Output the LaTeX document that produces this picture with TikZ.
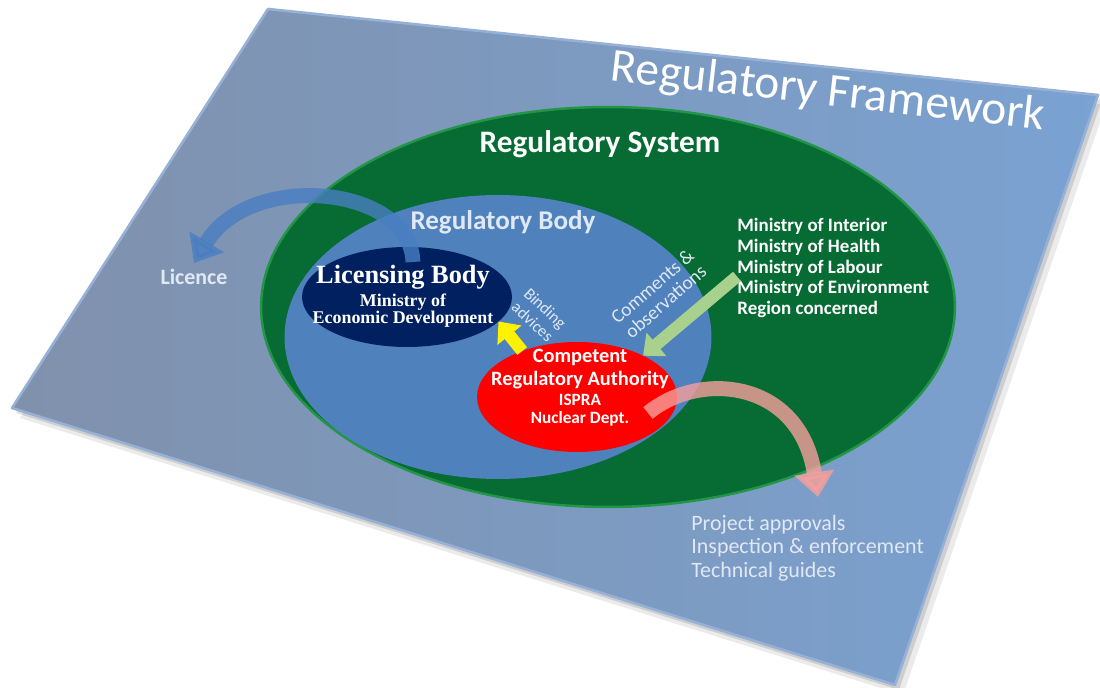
\documentclass[tikz,border=0pt]{standalone}
\usepackage{fontspec}
\setmainfont{Carlito}
\newfontfamily\lbfont{Liberation Serif}
\usepackage{tikz}
\usetikzlibrary{shapes.geometric, arrows.meta, positioning}

\definecolor{frameL}{RGB}{128,145,172}
\definecolor{frameR}{RGB}{122,162,210}
\definecolor{frameEdge}{RGB}{150,176,214}
\definecolor{sysgreen}{RGB}{6,108,52}
\definecolor{rimgreen}{RGB}{34,150,70}
\definecolor{bodyblue}{RGB}{79,129,189}
\definecolor{navy}{RGB}{0,32,96}
\definecolor{paleblue}{RGB}{224,232,243}
\definecolor{licblue}{RGB}{72,126,194}
\definecolor{advgreen}{RGB}{169,209,142}
\definecolor{outpink}{RGB}{246,160,156}

\begin{document}
\begin{tikzpicture}[
    x=0.02cm, y=-0.02cm,
    oval/.style={ellipse, inner sep=0pt, outer sep=0pt},
    fatarrow/.style={line width=7pt, -{Triangle[width=17pt,length=10pt]}},
    bendarrow/.style={line width=8.5pt, -{Triangle[width=22pt,length=14pt]}, opacity=0.8},
    heading/.style={font=\bfseries\fontsize{17.8}{20}\selectfont, text=white},
    pale/.style={text=paleblue},
]
    \useasboundingbox (0,0) rectangle (1100,688);

    % framework plate and its shadow
    \fill[black, opacity=0.08] (276,19) -- (1106,105) -- (903,695) -- (20,418) -- cycle;
    \fill[black, opacity=0.12] (272,14) -- (1102,100) -- (899,690) -- (16,413) -- cycle;
    \fill[left color=frameL, right color=frameR] (268,9) -- (1098,95) -- (895,685) -- (12,408) -- cycle;
    \draw[frameEdge, line width=1.5pt, line join=round] (268,9) -- (1098,95) -- (895,685) -- (12,408) -- cycle;
    \node[rotate=-6.5, text=white, font=\fontsize{27}{30}\selectfont] (framework) at (828,93) {Regulatory Framework};

    % regulatory system
    \node[oval, fill=sysgreen, draw=rimgreen, line width=1.4pt, minimum width=13.88cm, minimum height=8cm] (system) at (608,307) {};
    \node[heading] (systitle) at (600,144) {Regulatory System};

    % regulatory body
    \node[oval, fill=bodyblue, minimum width=8.54cm, minimum height=5.68cm] (body) at (498,337) {};
    \node[heading, font=\bfseries\fontsize{15.4}{17}\selectfont, text=paleblue] (bodytitle) at (503,222) {Regulatory Body};

    % licensing body
    \node[oval, fill=navy, minimum width=4.2cm, minimum height=2cm] (lb) at (407,297) {};
    \node[text=white, align=center, font=\lbfont\bfseries\fontsize{10.2}{9.7}\selectfont] (lbtext) at (403,296)
        {{\fontsize{15}{15}\selectfont Licensing Body}\\[1.6pt]Ministry of\\Economic Development};

    % competent authority
    \node[oval, fill=red, minimum width=4cm, minimum height=2.2cm] (cra) at (577,397) {};
    \node[text=white, align=center, font=\bfseries\fontsize{11.6}{13}\selectfont] (cratext) at (580,388)
        {Competent\\Regulatory Authority\\[-1.6pt]{\fontsize{9.8}{11}\selectfont ISPRA}\\[-2.8pt]{\fontsize{9.8}{11}\selectfont Nuclear Dept.}};

    % other ministries
    \node[text=white, align=left, anchor=west, inner sep=0pt, font=\bfseries\fontsize{10.8}{11.8}\selectfont] (ministries) at (737,268)
        {Ministry of Interior\\Ministry of Health\\Ministry of Labour\\Ministry of Environment\\Region concerned};

    % outside texts
    \node[pale, font=\bfseries\fontsize{12.5}{15}\selectfont] (licence) at (194,277) {Licence};
    \node[pale, align=left, anchor=west, inner sep=0pt, font=\fontsize{12.5}{13.4}\selectfont] (outputs) at (691,548)
        {Project approvals\\Inspection \& enforcement\\Technical guides};

    % flows
    \draw[fatarrow, yellow] (cra.140) -- (lb.-15);
    \draw[fatarrow, advgreen] (ministries.185) -- (cra.32);
    \node[rotate=-43, pale, align=center, font=\fontsize{9.5}{10.5}\selectfont] (binding) at (539,315) {Binding\\advices};
    \node[rotate=41, pale, align=center, font=\fontsize{11}{11.5}\selectfont] (comments) at (659,294) {Comments \&\\observations};

    \coordinate (lbtail) at (413,262);
    \coordinate (crtail) at (648,413);
    \coordinate (outtip) at (818,497);
    \draw[bendarrow, licblue] (lbtail) .. controls (410,185) and (250,170) .. (licence.north);
    \draw[bendarrow, outpink] (crtail) .. controls (700,370) and (800,380) .. (outtip);
\end{tikzpicture}
\end{document}
